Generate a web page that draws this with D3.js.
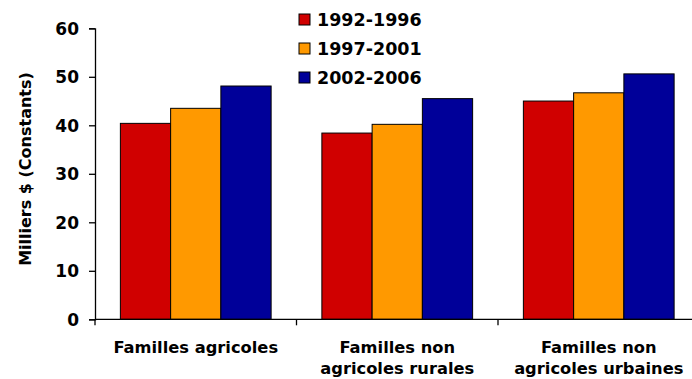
<!DOCTYPE html>
<html><head><meta charset="utf-8">
<script src="https://cdn.jsdelivr.net/npm/d3@7"></script>
<style>body{margin:0;background:#fff}svg{display:block}text{font-family:"DejaVu Sans",Verdana,sans-serif;font-weight:bold;fill:#000}</style>
</head><body><svg id="c" width="692" height="379"></svg>
<script>
const categories = [["Familles agricoles"], ["Familles non", "agricoles rurales"], ["Familles non", "agricoles urbaines"]];
const seriesNames = ["1992-1996", "1997-2001", "2002-2006"];
const colors = ["#D00000", "#FF9900", "#000099"];
const values1992 = [40.4, 38.4, 45.0];
const values1997 = [43.5, 40.2, 46.7];
const values2002 = [48.1, 45.5, 50.6];
const yTicks = [0, 10, 20, 30, 40, 50, 60];
const series = [values1992, values1997, values2002];

const svg = d3.select("#c");
const x0 = 95, x1 = 95 + 3 * 201.5, yTop = 28.3, yBot = 319.3;
const x = d3.scaleBand().domain(d3.range(categories.length)).range([x0, x1]).paddingInner(0).paddingOuter(0);
const y = d3.scaleLinear().domain([0, 60]).range([yBot, yTop]);
const inner = d3.scaleBand().domain(d3.range(series.length)).range([0, x.bandwidth()]).paddingInner(0).paddingOuter(0.505);

// bars
series.forEach((vals, si) => {
  svg.append("g").selectAll("rect").data(vals).join("rect")
    .attr("x", (d, i) => x(i) + inner(si))
    .attr("y", d => y(d))
    .attr("width", inner.bandwidth())
    .attr("height", d => y(0) - y(d))
    .attr("fill", colors[si])
    .attr("stroke", "#000").attr("stroke-width", 1);
});

// y axis
const ya = svg.append("g").attr("transform", `translate(${x0},0)`)
  .call(d3.axisLeft(y).tickValues(yTicks).tickSize(6).tickPadding(10).tickFormat(d3.format("d")));
ya.select(".domain").attr("stroke", "#000").attr("stroke-width", 1.3);
ya.selectAll(".tick line").attr("stroke", "#000").attr("stroke-width", 1.3);
ya.selectAll(".tick text").style("font-size", "17px").attr("dy", "0.35em");

// x axis
const xa = svg.append("g").attr("transform", `translate(0,${yBot})`);
xa.append("line").attr("x1", x0).attr("x2", x1).attr("stroke", "#000").attr("stroke-width", 1.3);
xa.selectAll("line.t").data(d3.range(categories.length + 1)).join("line").attr("class", "t")
  .attr("x1", i => x0 + i * x.step()).attr("x2", i => x0 + i * x.step())
  .attr("y1", 0).attr("y2", 6).attr("stroke", "#000").attr("stroke-width", 1.3);
categories.forEach((lines, i) => {
  const t = xa.append("text").attr("text-anchor", "middle").style("font-size", "16.3px")
    .attr("transform", `translate(${x(i) + x.bandwidth() / 2},${34})`);
  lines.forEach((l, j) => t.append("tspan").attr("x", 0).attr("y", j * 21).text(l));
});

// y title
svg.append("text").attr("transform", `translate(31,${(73 + 265) / 2}) rotate(-90)`)
  .attr("text-anchor", "middle").style("font-size", "16px").text("Milliers $ (Constants)");

// legend
const lg = svg.append("g").attr("transform", "translate(299,14)");
seriesNames.forEach((n, i) => {
  const g = lg.append("g").attr("transform", `translate(0,${i * 29})`);
  g.append("rect").attr("width", 11).attr("height", 11).attr("fill", colors[i]).attr("stroke", "#000").attr("stroke-width", 1);
  g.append("text").attr("x", 18).attr("y", 12).style("font-size", "17.5px").text(n);
});
</script></body></html>
